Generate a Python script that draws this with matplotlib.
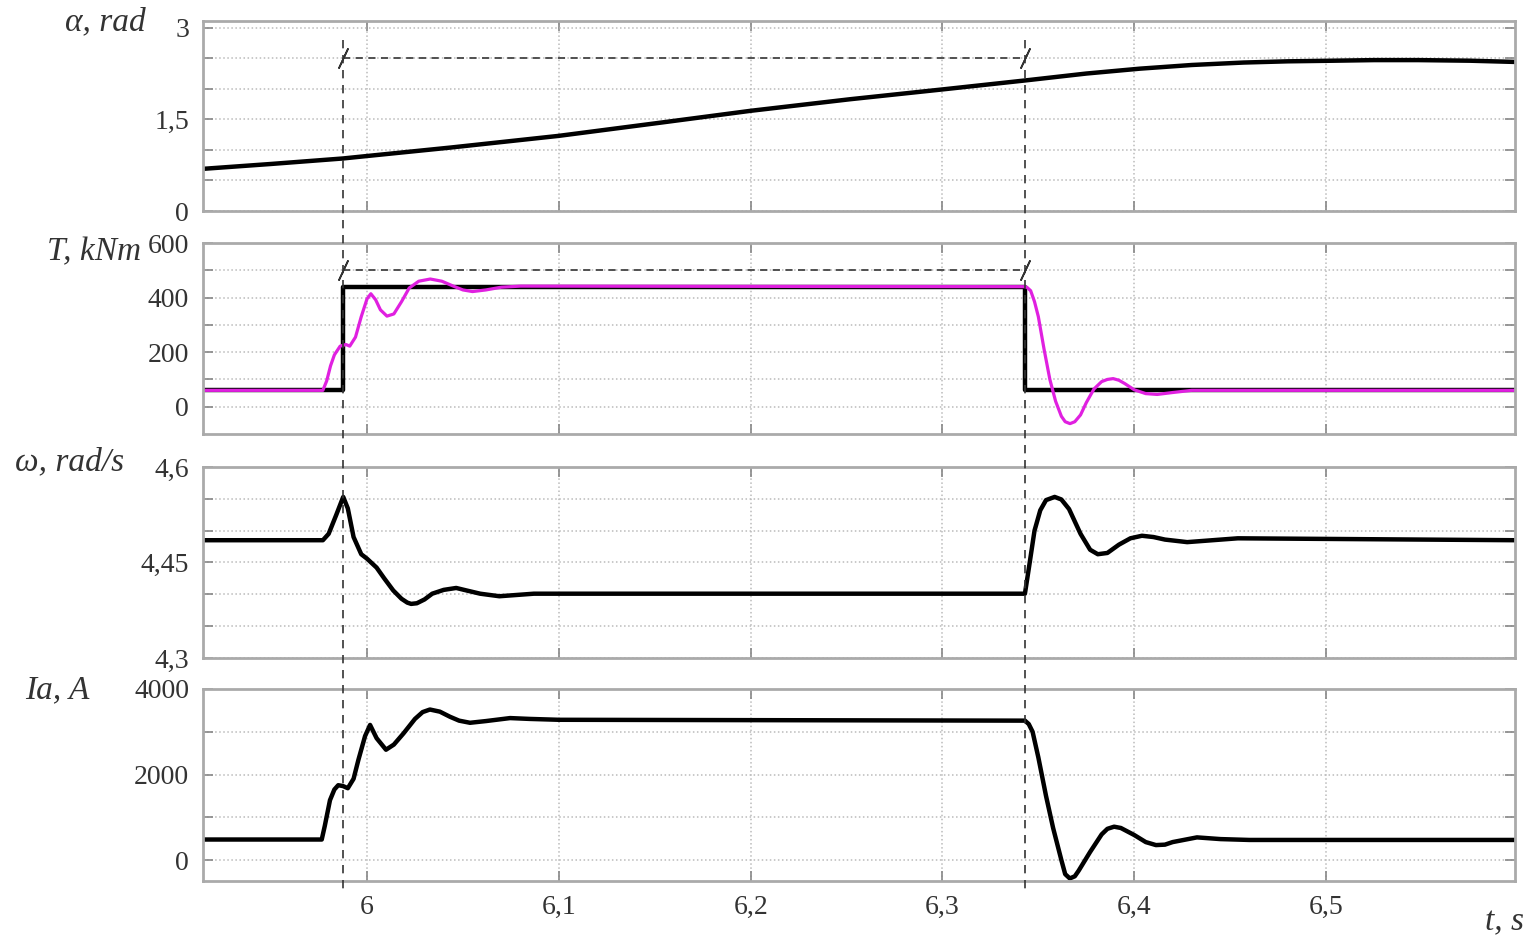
import matplotlib
matplotlib.use("Agg")
import matplotlib.pyplot as plt
import matplotlib.transforms as mtransforms
from matplotlib.lines import Line2D

# ---- data ----
t_alpha = [5.9145, 5.95, 5.9875, 6.0, 6.044, 6.1, 6.154, 6.2, 6.252, 6.3, 6.344,
           6.375, 6.403, 6.43, 6.457, 6.48, 6.504, 6.525, 6.548, 6.575, 6.5985]
alpha = [0.69, 0.77, 0.86, 0.90, 1.04, 1.23, 1.45, 1.64, 1.83, 1.99, 2.14,
         2.25, 2.33, 2.39, 2.43, 2.45, 2.46, 2.47, 2.47, 2.46, 2.44]

t_Tref = [5.9145, 5.9875, 5.9875, 6.343, 6.343, 6.5985]
T_ref = [60, 60, 440, 440, 60, 60]

t_T = [5.9145, 5.977, 5.979, 5.981, 5.983, 5.986, 5.989, 5.991, 5.994, 5.997,
       6.0, 6.002, 6.0045, 6.007, 6.0104, 6.014, 6.018, 6.022, 6.027, 6.033,
       6.039, 6.045, 6.050, 6.055, 6.062, 6.070, 6.080, 6.343, 6.344, 6.346,
       6.348, 6.350, 6.353, 6.356, 6.359, 6.362, 6.364, 6.3665, 6.369, 6.372,
       6.375, 6.379, 6.383, 6.386, 6.389, 6.392, 6.395, 6.400, 6.406, 6.412,
       6.420, 6.430, 6.5985]
T_mag = [60, 60, 95, 150, 190, 222, 228, 222, 255, 330,
         395, 414, 392, 355, 332, 340, 385, 435, 460, 468,
         460, 442, 428, 422, 428, 438, 442, 440, 438, 425,
         385, 330, 210, 100, 20, -35, -55, -62, -55, -30,
         15, 65, 92, 100, 103, 97, 85, 62, 48, 45,
         52, 60, 60]

t_w = [5.9145, 5.977, 5.980, 5.984, 5.9876, 5.990, 5.993, 5.997, 6.0, 6.005,
       6.009, 6.0137, 6.018, 6.021, 6.023, 6.026, 6.030, 6.034, 6.040, 6.0465,
       6.052, 6.059, 6.069, 6.087, 6.343, 6.345, 6.348, 6.351, 6.354, 6.3585,
       6.362, 6.366, 6.372, 6.377, 6.381, 6.386, 6.392, 6.398, 6.404, 6.410,
       6.416, 6.4276, 6.454, 6.5985]
w = [4.485, 4.485, 4.495, 4.525, 4.553, 4.535, 4.49, 4.463, 4.456, 4.442,
     4.425, 4.406, 4.393, 4.387, 4.385, 4.386, 4.392, 4.401, 4.407, 4.410,
     4.406, 4.401, 4.397, 4.401, 4.401, 4.44, 4.50, 4.532, 4.548, 4.553,
     4.549, 4.534, 4.495, 4.470, 4.463, 4.465, 4.478, 4.488, 4.492, 4.490,
     4.486, 4.482, 4.488, 4.485]

t_ia = [5.9145, 5.9764, 5.978, 5.9807, 5.983, 5.985, 5.9875, 5.990, 5.993, 5.9955,
        5.999, 6.0016, 6.005, 6.0099, 6.014, 6.019, 6.025, 6.029, 6.0328, 6.038,
        6.0433, 6.048, 6.0537, 6.062, 6.0746, 6.085, 6.10, 6.343, 6.345, 6.347,
        6.350, 6.354, 6.3577, 6.362, 6.364, 6.3664, 6.369, 6.371, 6.377, 6.383,
        6.386, 6.3895, 6.393, 6.400, 6.406, 6.4113, 6.416, 6.420, 6.4327, 6.445,
        6.460, 6.5985]
ia = [480, 480, 800, 1400, 1650, 1750, 1730, 1680, 1900, 2340,
      2900, 3160, 2850, 2580, 2700, 2960, 3300, 3460, 3520, 3470,
      3350, 3260, 3210, 3250, 3320, 3300, 3280, 3260, 3180, 3000,
      2400, 1500, 750, 0, -330, -430, -380, -250, 190, 600,
      730, 780, 750, 585, 420, 350, 360, 420, 530, 490,
      470, 470]

t_events = [5.9875, 6.343]
alpha_set = 2.5
T_set = 500

x_ticks = [6.0, 6.1, 6.2, 6.3, 6.4, 6.5]
x_labels = ["6", "6,1", "6,2", "6,3", "6,4", "6,5"]

y1_ticks = [0, 0.5, 1, 1.5, 2, 2.5, 3]
y1_labels = ["0", "", "", "1,5", "", "", "3"]
y2_ticks = [0, 100, 200, 300, 400, 500, 600]
y2_labels = ["0", "", "200", "", "400", "", "600"]
y3_ticks = [4.3, 4.35, 4.4, 4.45, 4.5, 4.55, 4.6]
y3_labels = ["4,3", "", "", "4,45", "", "", "4,6"]
y4_ticks = [0, 1000, 2000, 3000, 4000]
y4_labels = ["0", "", "2000", "", "4000"]

panel_names = ["α, rad", "T, kNm", "ω, rad/s", "Ia, A"]

# ---- figure ----
W, H = 1528, 939
fig = plt.figure(figsize=(W / 100, H / 100), dpi=100)
plt.rcParams["font.family"] = ["Liberation Serif", "DejaVu Serif"]

boxes = [(21, 211), (243, 434), (467, 658), (689, 881)]
left, right = 203 / W, 1515 / W
axes = []
for top, bot in boxes:
    ax = fig.add_axes([left, 1 - bot / H, right - left, (bot - top) / H])
    axes.append(ax)

ax1, ax2, ax3, ax4 = axes
ax1.plot(t_alpha, alpha, color="black", lw=3.2, solid_joinstyle="round")
ax2.plot(t_Tref, T_ref, color="black", lw=3.2)
ax2.plot(t_T, T_mag, color="#e020e0", lw=2.3, solid_joinstyle="round")
ax3.plot(t_w, w, color="black", lw=3.2, solid_joinstyle="round")
ax4.plot(t_ia, ia, color="black", lw=3.2, solid_joinstyle="round")

ax1.plot(t_events, [alpha_set, alpha_set], color="#444444", lw=1.3, ls=(0, (4, 3)))
ax2.plot(t_events, [T_set, T_set], color="#444444", lw=1.3, ls=(0, (4, 3)))
ax1.plot(t_events, [alpha_set, alpha_set], ls="none", marker=(2, 2, -25),
         ms=16, mec="#333333", mew=1.2)
ax2.plot(t_events, [T_set, T_set], ls="none", marker=(2, 2, -25),
         ms=16, mec="#333333", mew=1.2)

ylims = [(0, 3.11), (-100, 600), (4.3, 4.6), (-490, 4000)]
yticks = [y1_ticks, y2_ticks, y3_ticks, y4_ticks]
ylabels = [y1_labels, y2_labels, y3_labels, y4_labels]
for ax, yl, yt, ytl in zip(axes, ylims, yticks, ylabels):
    ax.set_xlim(5.9145, 6.5985)
    ax.set_ylim(*yl)
    ax.set_yticks(yt)
    ax.set_yticklabels(ytl)
    ax.set_xticks(x_ticks)
    ax.set_xticklabels(x_labels if ax is ax4 else [])
    ax.tick_params(direction="in", length=7, width=1.2, color="#888888",
                   top=True, right=True, labelsize=20, labelcolor="#333333", pad=10)
    ax.grid(True, ls=":", color="#bbbbbb", lw=1.1)
    for s in ax.spines.values():
        s.set_color("#aaaaaa")
        s.set_linewidth(2)

# vertical event lines across all panels
trans = mtransforms.blended_transform_factory(ax4.transData, fig.transFigure)
for te in t_events:
    fig.add_artist(Line2D([te, te], [1 - 40 / H, 1 - 892 / H], transform=trans,
                          color="#333333", lw=1.2, ls=(0, (5, 4))))

# panel labels
label_pos = [(65, 22), (47, 252), (15, 462), (25, 690)]
for name, (px, py) in zip(panel_names, label_pos):
    fig.text(px / W, 1 - py / H, name, fontsize=24, style="italic",
             color="#333333", ha="left", va="center")
fig.text(1524 / W, 1 - 922 / H, "t, s", fontsize=24, style="italic",
         color="#333333", ha="right", va="center")

fig.savefig("out.png", dpi=100)
